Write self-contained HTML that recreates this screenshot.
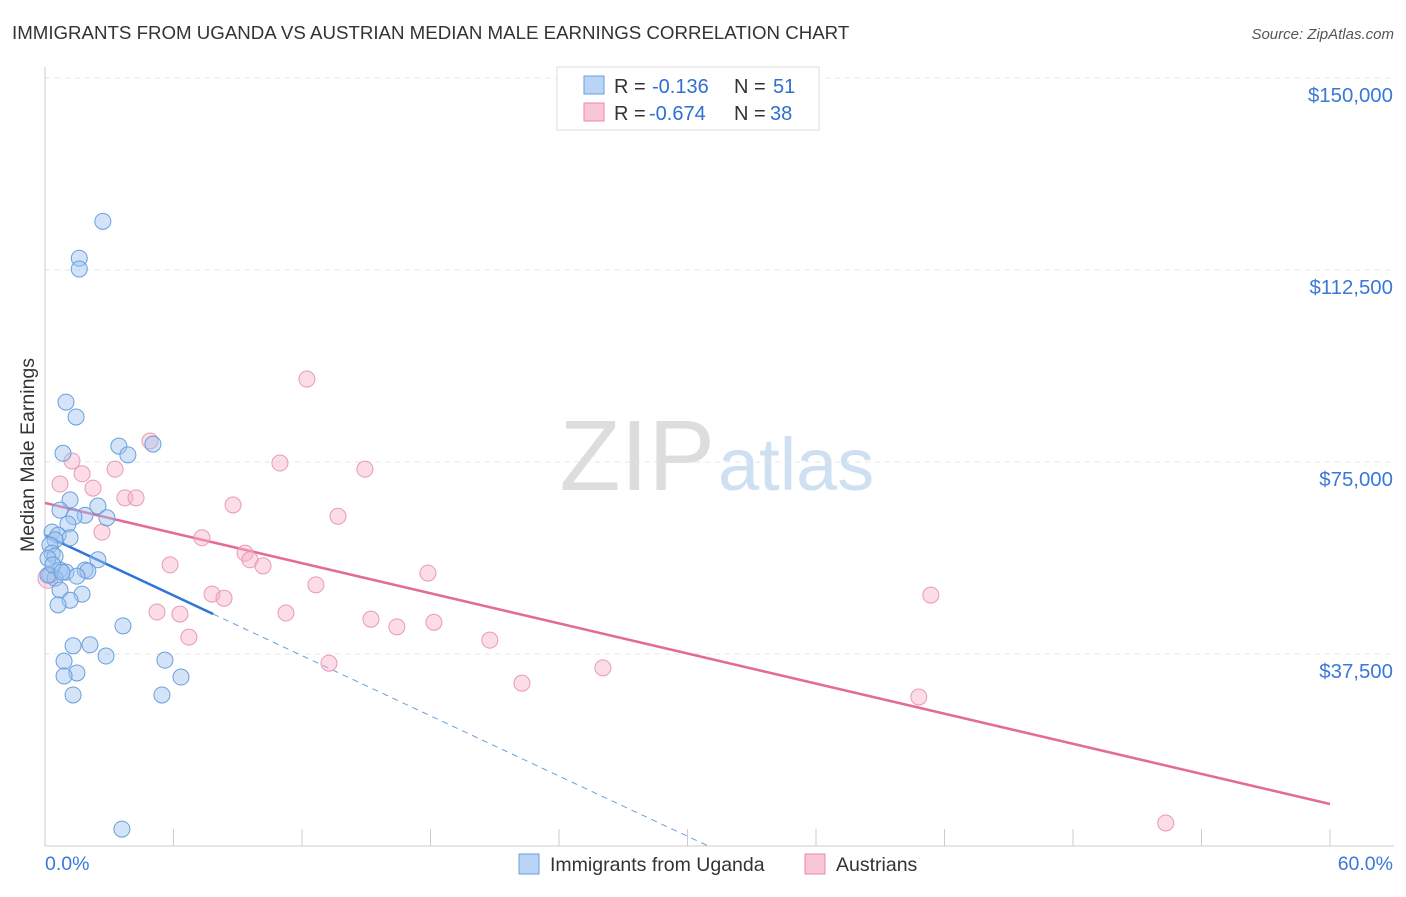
<!DOCTYPE html>
<html><head><meta charset="utf-8"><style>
body{margin:0;background:#fff;font-family:"Liberation Sans",sans-serif;}
svg text{font-family:"Liberation Sans",sans-serif;}
</style></head><body>
<svg id="chart" width="1406" height="892" xmlns="http://www.w3.org/2000/svg">
<text x="12" y="39" font-size="18.7" fill="#333">IMMIGRANTS FROM UGANDA VS AUSTRIAN MEDIAN MALE EARNINGS CORRELATION CHART</text>
<text x="1394" y="39" font-size="15" fill="#555" font-style="italic" text-anchor="end">Source: ZipAtlas.com</text>
<text x="715" y="490" font-size="100" fill="#ddd" text-anchor="end" font-family="Liberation Serif">ZIP</text>
<text x="718" y="490" font-size="74" fill="#cfe0f3">atlas</text>
<g id="grid"></g><g id="axes"></g><g id="trends"></g><g id="pts"></g>
<text transform="translate(34,455) rotate(-90)" font-size="19.5" fill="#333" text-anchor="middle">Median Male Earnings</text>
<g>
<rect x="557" y="67" width="262" height="63" fill="#fff" stroke="#ddd"/>
<rect x="584" y="76" width="20" height="18" fill="#b9d4f5" stroke="#6a9fdc"/>
<rect x="584" y="103" width="20" height="18" fill="#f9c6d6" stroke="#e58aa8"/>
<text x="614" y="93" font-size="20" fill="#333">R =</text>
<text x="652" y="93" font-size="20" fill="#2f6fd1">-0.136</text>
<text x="734" y="93" font-size="20" fill="#333">N =</text>
<text x="773" y="93" font-size="20" fill="#2f6fd1">51</text>
<text x="614" y="120" font-size="20" fill="#333">R =</text>
<text x="649" y="120" font-size="20" fill="#2f6fd1">-0.674</text>
<text x="734" y="120" font-size="20" fill="#333">N =</text>
<text x="770" y="120" font-size="20" fill="#2f6fd1">38</text>
</g>
<g>
<rect x="519" y="854" width="20" height="20" fill="#b9d4f5" stroke="#6a9fdc"/>
<text x="550" y="871" font-size="19.5" fill="#333">Immigrants from Uganda</text>
<rect x="805" y="854" width="20" height="20" fill="#f9c6d6" stroke="#e58aa8"/>
<text x="836" y="871" font-size="19.5" fill="#333">Austrians</text>
</g>
</svg>
<script>
const yTicks=[37500,75000,112500,150000];
const yTickLabels=["$37,500","$75,000","$112,500","$150,000"];
const xTicks=[0,6,12,18,24,30,36,42,48,54,60];
const blueX=[2.7,1.6,1.6,0.98,1.45,0.84,3.45,5.04,3.87,1.17,2.47,0.7,1.87,1.35,2.89,1.07,0.33,0.61,1.17,0.47,0.23,0.33,0.47,2.47,0.14,0.7,0.98,1.87,2.0,0.23,1.49,0.47,0.7,1.73,1.17,0.61,3.64,1.31,2.1,2.85,0.89,5.6,1.49,0.89,6.35,1.31,5.46,3.59,0.14,0.37,0.79];
const blueY=[122000,114800,112700,86700,83800,76700,78100,78500,76400,67600,66400,65600,64600,64300,64100,62900,61300,60700,60200,59800,58800,57200,56600,55900,56200,53900,53500,53900,53700,52900,52700,52300,50000,49200,48000,47100,43000,39100,39300,37100,36100,36300,33800,33200,33000,29500,29500,3300,52900,54900,53500];
const pinkX=[12.23,4.9,1.26,10.97,14.94,3.27,1.73,0.7,2.24,3.73,4.25,8.78,13.68,2.66,7.33,9.34,9.57,5.84,10.18,17.88,12.65,7.8,8.36,41.36,5.23,6.3,11.25,15.22,18.16,16.43,6.72,20.77,13.26,26.05,22.27,40.8,52.33,0.14];
const pinkY=[91200,79100,75200,74800,73600,73600,72700,70700,69900,68000,68000,66600,64400,61300,60200,57200,55900,54900,54700,53300,51000,49200,48400,49000,45700,45300,45500,44300,43700,42800,40800,40200,35700,34800,31800,29100,4500,52300];
const blueTrend=[60700,-1960], pinkTrend=[67000,-980];
const X=v=>45+v*(1285/60), Y=v=>846-v*(192/37500);
const NS="http://www.w3.org/2000/svg";
function mk(p,t,a){const e=document.createElementNS(NS,t);for(const k in a)e.setAttribute(k,a[k]);document.getElementById(p).appendChild(e);return e;}
yTicks.forEach((t,i)=>{
 const l=mk('grid','line',{x1:45,x2:1394,y1:Y(t),y2:Y(t),stroke:'#e4e4e4','stroke-dasharray':'5,5'});
 
 
 const tx=mk('grid','text',{x:1393,y:Y(t)+24,'font-size':20.4,fill:'#3b78d8','text-anchor':'end'});
 tx.textContent=yTickLabels[i];
 
 
});
mk('axes','line',{x1:45,x2:45,y1:67,y2:846,stroke:'#ccc'});
mk('axes','line',{x1:45,x2:1394,y1:846,y2:846,stroke:'#ccc'});
xTicks.forEach(t=>{const l=mk('axes','line',{x1:X(t),x2:X(t),y1:829,y2:846,stroke:'#ccc'});
 
 });
let a=mk('axes','text',{x:45,y:870,'font-size':19.5,fill:'#3b78d8'});a.textContent='0.0%';


a=mk('axes','text',{x:1393,y:870,'font-size':19.5,fill:'#3b78d8','text-anchor':'end'});a.textContent='60.0%';


const tb=x=>blueTrend[0]+blueTrend[1]*x, tp=x=>pinkTrend[0]+pinkTrend[1]*x;
const bEnd=Math.max(...blueX.filter(v=>v<7))+1.5, bZero=-blueTrend[0]/blueTrend[1];
let t=mk('trends','line',{x1:X(bEnd),y1:Y(tb(bEnd)),x2:X(bZero),y2:Y(0),stroke:'#6a9fdc','stroke-width':1,'stroke-dasharray':'6,5'});


t=mk('trends','line',{x1:X(0),y1:Y(tp(0)),x2:X(60),y2:Y(tp(60)),stroke:'#e36b97','stroke-width':2.5});


t=mk('trends','line',{x1:X(0),y1:Y(tb(0)),x2:X(bEnd),y2:Y(tb(bEnd)),stroke:'#2f74d8','stroke-width':2.5});


pinkX.forEach((x,i)=>{const c=mk('pts','circle',{cx:X(x),cy:Y(pinkY[i]),r:i==pinkX.length-1?10:8,fill:'rgba(246,178,202,0.45)',stroke:'#e99ab5','stroke-width':1});
 
 });
blueX.forEach((x,i)=>{const c=mk('pts','circle',{cx:X(x),cy:Y(blueY[i]),r:8,fill:'rgba(160,196,240,0.45)',stroke:'#6a9fdc','stroke-width':1});
 
 });
</script>
</body></html>
